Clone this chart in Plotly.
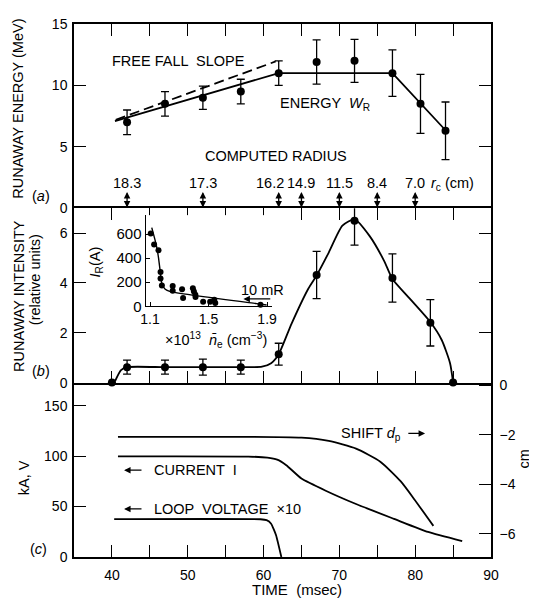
import plotly.graph_objects as go

# ---------------- data ----------------
# panel (a): runaway energy
energy_t = [42, 47, 52, 57, 62, 67, 72, 77, 80.7, 84]
energy_v = [7.0, 8.5, 9.0, 9.5, 11.0, 11.9, 12.0, 11.0, 8.5, 6.3]
energy_err = [1.0, 1.0, 0.95, 1.0, 1.0, 1.8, 1.75, 1.9, 2.4, 2.35]
energy_fit_t = [40.4, 62, 77, 84]
energy_fit_v = [7.1, 11.0, 11.0, 6.35]
freefall_t = [40.5, 61.6]
freefall_v = [7.2, 11.95]
radius_t = [42, 52, 62, 65, 70, 75, 80]
radius_labels = ["18.3", "17.3", "16.2", "14.9", "11.5", "8.4", "7.0"]

# panel (b): runaway intensity
inten_t = [40, 42, 47, 52, 57, 62, 67, 72, 77, 82, 85]
inten_v = [0, 0.62, 0.62, 0.62, 0.62, 1.14, 4.32, 6.5, 4.2, 2.4, 0]
inten_err = [0, 0.28, 0.28, 0.32, 0.28, 0.44, 0.95, 0.98, 0.97, 0.93, 0]
inten_curve_t = [40.4, 41.2, 42, 47, 52, 57, 59.8, 61, 62, 63.7, 65.9, 67, 68.6,
                 70.4, 72, 74, 75.9, 77, 79.5, 82, 83.5, 84.6, 85]
inten_curve_v = [0.05, 0.5, 0.62, 0.62, 0.62, 0.62, 0.64, 0.78, 1.14, 2.37, 3.77, 4.3,
                 5.22, 6.3, 6.55, 5.88, 4.89, 4.16, 3.3, 2.43, 1.71, 0.78, 0]

# inset: I_R vs n_e
inset_ne = [1.105, 1.128, 1.158, 1.172, 1.172, 1.181, 1.255, 1.255, 1.319, 1.326,
            1.393, 1.400, 1.411, 1.41, 1.463, 1.511, 1.539, 1.546, 1.855]
inset_ir = [605, 514, 465, 284, 230, 173, 168, 130, 141, 68,
            149, 122, 76, 95, 38, 38, 54, 27, 12]
inset_curve_ne = [1.112, 1.142, 1.158, 1.169, 1.181, 1.204, 1.239, 1.828, 1.897]
inset_curve_ir = [654, 514, 405, 297, 189, 141, 122, 22, 11]

# panel (c)
shift_t = [40.8, 65, 68.6, 72.2, 75.4, 78.1, 79.9, 82.4]
shift_cm = [-2.08, -2.11, -2.24, -2.55, -3.08, -3.88, -4.61, -5.68]
current_t = [40.8, 58, 60.5, 61.8, 63, 65, 68.2, 72.2, 77.2, 81.7, 86.2]
current_ka = [99.7, 99.5, 98.5, 96.5, 91, 77.7, 65.7, 52.5, 37.8, 24.8, 15.7]
voltage_t = [40.3, 59.6, 60.4, 61.0, 61.65, 62.35]
voltage_v = [37.5, 37.4, 36.5, 33, 21.6, 0]

time_ticks = [40, 45, 50, 55, 60, 65, 70, 75, 80, 85, 90]
time_ticktext = ["40", "", "50", "", "60", "", "70", "", "80", "", "90"]

# ---------------- figure ----------------
FONT = "Liberation Sans, Arial, Helvetica, sans-serif"
K = "black"
fig = go.Figure()

mk = dict(color=K, size=8)
err_style = dict(type="data", color=K, thickness=1.3, width=4)

# panel (a)
fig.add_trace(go.Scatter(x=freefall_t, y=freefall_v, mode="lines", xaxis="x3", yaxis="y4",
                         line=dict(color=K, width=1.8, dash="10px,5px"), showlegend=False))
fig.add_trace(go.Scatter(x=energy_fit_t, y=energy_fit_v, mode="lines", xaxis="x3", yaxis="y4",
                         line=dict(color=K, width=1.8), showlegend=False))
fig.add_trace(go.Scatter(x=energy_t, y=energy_v, mode="markers", xaxis="x3", yaxis="y4",
                         marker=mk, error_y=dict(array=energy_err, **err_style),
                         showlegend=False, cliponaxis=False))

# panel (b)
fig.add_trace(go.Scatter(x=inten_curve_t, y=inten_curve_v, mode="lines", xaxis="x2", yaxis="y3",
                         line=dict(color=K, width=1.8, shape="spline", smoothing=0.6),
                         showlegend=False))
fig.add_trace(go.Scatter(x=inten_t, y=inten_v, mode="markers", xaxis="x2", yaxis="y3",
                         marker=mk, error_y=dict(array=inten_err, **err_style),
                         showlegend=False, cliponaxis=False))

# inset
fig.add_trace(go.Scatter(x=inset_curve_ne, y=inset_curve_ir, mode="lines", xaxis="x4", yaxis="y5",
                         line=dict(color=K, width=1.4, shape="spline", smoothing=0.5),
                         showlegend=False))
fig.add_trace(go.Scatter(x=inset_ne, y=inset_ir, mode="markers", xaxis="x4", yaxis="y5",
                         marker=dict(color=K, size=6), showlegend=False, cliponaxis=False))

# panel (c)
fig.add_trace(go.Scatter(x=current_t, y=current_ka, mode="lines", xaxis="x", yaxis="y",
                         line=dict(color=K, width=1.8, shape="spline", smoothing=0.5),
                         showlegend=False))
fig.add_trace(go.Scatter(x=voltage_t, y=voltage_v, mode="lines", xaxis="x", yaxis="y",
                         line=dict(color=K, width=1.8, shape="spline", smoothing=0.4),
                         showlegend=False))
fig.add_trace(go.Scatter(x=shift_t, y=shift_cm, mode="lines", xaxis="x", yaxis="y2",
                         line=dict(color=K, width=1.8, shape="spline", smoothing=0.6),
                         showlegend=False))

# page body has an 8 px margin: plot area spans viewport x 74..491, y 16..557
L, T, PW, PH = 66, 8, 417, 541
def px(vx):
    return (vx - 8 - L) / PW
def py(vy):
    return (T + PH - (vy - 8)) / PH

dom_c = [0.0, py(380)]
dom_b = [py(380), py(203)]
dom_a = [py(203), 1.0]

tickfont = dict(family=FONT, size=14, color=K)
common_x = dict(range=[35, 90], tickvals=time_ticks, ticks="inside", ticklen=12,
                tickwidth=1.3, tickcolor=K, showline=True, linecolor=K, linewidth=1.5,
                showgrid=False, zeroline=False, tickfont=tickfont)
common_y = dict(ticks="inside", ticklen=12, tickwidth=1.3, tickcolor=K, showline=True,
                linecolor=K, linewidth=1.5, showgrid=False, zeroline=False, tickfont=tickfont)

fig.update_layout(
    width=537, height=599,
    margin=dict(l=L, r=537 - L - PW, t=T, b=599 - T - PH),
    paper_bgcolor="white", plot_bgcolor="white",
    font=dict(family=FONT, size=14, color=K),
    xaxis=dict(**common_x, anchor="y", ticktext=time_ticktext, mirror=False,
               ticklabelstandoff=4),
    xaxis2=dict(**common_x, anchor="y3", showticklabels=False, mirror="ticks"),
    xaxis3=dict(**common_x, anchor="y4", showticklabels=False, side="top", mirror=False),
    yaxis=dict(**common_y, domain=dom_c, anchor="x", range=[0, 172.8],
               tickvals=[0, 50, 100, 150], ticklabelstandoff=2),
    yaxis2=dict(**common_y, overlaying="y", side="right", anchor="x", range=[-6.94, 0.12],
                tickvals=[0, -2, -4, -6], ticktext=["0", "\u22122", "\u22124", "\u22126"],
                ticklabelstandoff=4),
    yaxis3=dict(**common_y, domain=dom_b, anchor="x2", range=[0, 7.0],
                tickvals=[0, 2, 4, 6], mirror="ticks", ticklabelstandoff=2),
    yaxis4=dict(**common_y, domain=dom_a, anchor="x3", range=[0, 15],
                tickvals=[0, 5, 10, 15], mirror="ticks", ticklabelstandoff=2),
    xaxis4=dict(domain=[px(145.7), px(272.2)], anchor="y5",
                range=[1.0706, 1.935], tickvals=[1.1, 1.5, 1.9], ticks="inside", ticklen=4,
                tickcolor=K, showline=True, linecolor=K, linewidth=1.3, showgrid=False,
                zeroline=False, tickfont=tickfont),
    yaxis5=dict(domain=[py(302.5), py(210)], anchor="x4",
                range=[0, 758], tickvals=[0, 200, 400, 600], ticks="inside", ticklen=4,
                tickcolor=K, showline=True, linecolor=K, linewidth=1.3, showgrid=False,
                zeroline=False, tickfont=dict(family=FONT, size=15, color=K)),
)

ann = []
def txt(text, x, y, xref="paper", yref="paper", xanchor="center", yanchor="middle",
        angle=0, size=14.5, xshift=0):
    ann.append(dict(text=text, x=x, y=y, xref=xref, yref=yref, xanchor=xanchor,
                    yanchor=yanchor, textangle=angle, showarrow=False, xshift=xshift,
                    font=dict(family=FONT, size=size, color=K)))

def arrow(x, y, ax, ay, xref, yref, both=False):
    ann.append(dict(text="", x=x, y=y, ax=ax, ay=ay, xref=xref, yref=yref,
                    axref=xref, ayref=yref, showarrow=True, arrowhead=2,
                    arrowsize=1.0, arrowwidth=1.3, arrowcolor=K,
                    arrowside="end+start" if both else "end", startarrowhead=2,
                    startarrowsize=1.0))

# axis titles
txt("RUNAWAY ENERGY (MeV)", px(18), py(102), angle=-90)
txt("RUNAWAY INTENSITY", px(19), py(292), angle=-90)
txt("(relative units)", px(35), py(276), angle=-90)
txt("kA, V", px(24), py(477), angle=-90)
txt("cm", px(524), py(458), angle=-90)
txt("TIME  (msec)", px(297), py(590), size=15)
txt("(<i>a</i>)", px(41), py(191))
txt("(<i>b</i>)", px(41), py(368))
txt("(<i>c</i>)", px(38), py(549))

# panel (a) labels
txt("FREE FALL  SLOPE", 39.7, 12.0, "x3", "y4", xanchor="left")
txt("ENERGY  <i>W</i><sub>R</sub>", 61.9, 8.5, "x3", "y4", xanchor="left")
txt("COMPUTED RADIUS", 61.6, 4.25, "x3", "y4")
for t, lab in zip(radius_t, radius_labels):
    txt(lab, t, 2.08, "x3", "y4", xshift=-9 if lab == "16.2" else 0)
    arrow(t, 0.05, t, 1.45, "x3", "y4", both=True)
txt("<i>r</i><sub>c</sub> (cm)", 81.8, 2.0, "x3", "y4", xanchor="left")

# inset labels
txt("<i>I</i><sub>R</sub>(A)", px(96), py(258), angle=-90)
txt("\u00d710<sup>13</sup>  <i>n\u0304</i><sub>e</sub> (cm<sup>\u22123</sup>)",
    px(216), py(337))
txt("10 mR", 1.866, 135, "x4", "y5")
arrow(1.738, 61, 1.932, 61, "x4", "y5")

# panel (c) labels
txt("SHIFT <i>d</i><sub>p</sub>", 70.0, 122, "x", "y", xanchor="left")
arrow(81.3, 122.5, 78.9, 122.5, "x", "y")
txt("CURRENT  I", 45.3, 86, "x", "y", xanchor="left")
arrow(41.6, 86, 44.1, 86, "x", "y")
txt("LOOP  VOLTAGE  \u00d710", 45.3, 47.6, "x", "y", xanchor="left")
arrow(41.6, 47.6, 44.1, 47.6, "x", "y")

fig.update_layout(annotations=ann)
fig.write_html("out.html")
